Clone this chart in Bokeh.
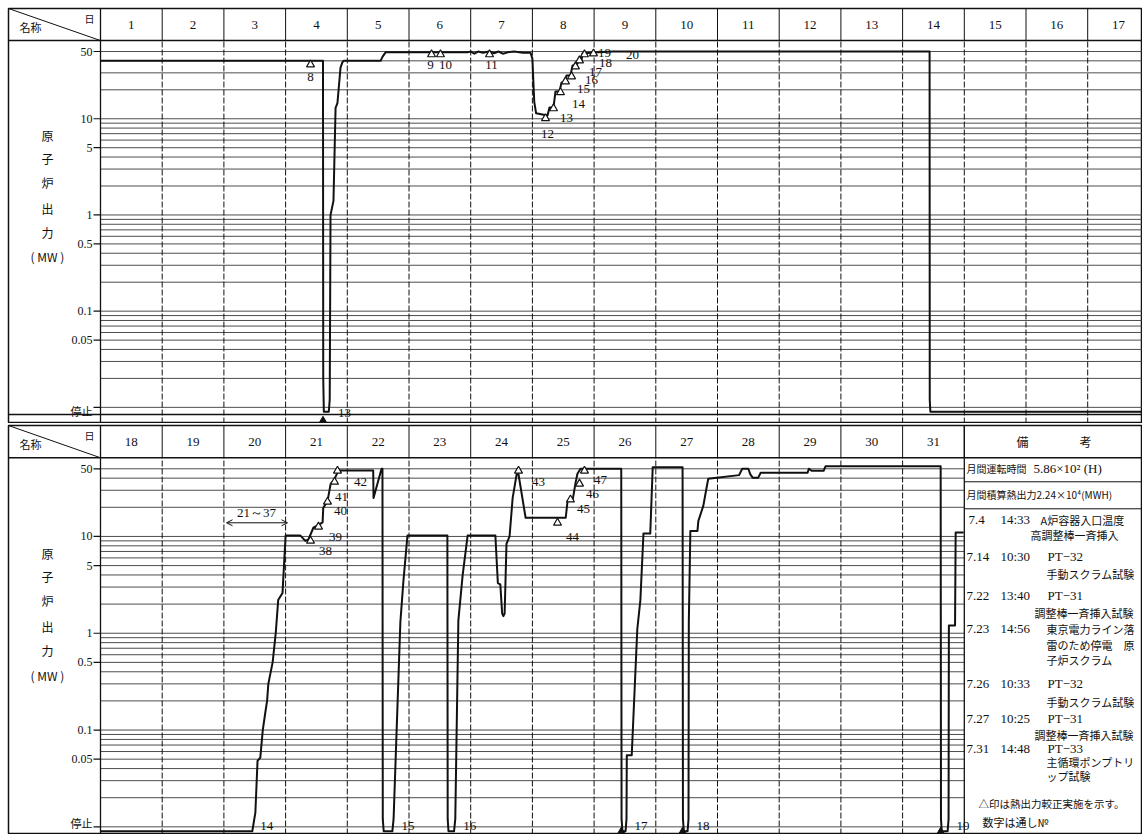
from bokeh.plotting import figure
from bokeh.models import Range1d, Arrow, OpenHead
from bokeh.layouts import column
from bokeh.core.properties import value
from bokeh.embed import file_html
from bokeh.resources import INLINE

# ------------------------------------------------------------------ data
TOP_DAYS = list(range(1, 18))
BOT_DAYS = list(range(18, 32))
TICK_MW = [50, 10, 5, 1, 0.5, 0.1, 0.05, 0.01]
TICK_LABELS = ["50", "10", "5", "1", "0.5", "0.1", "0.05", "停止"]
GRID_MW = [0.01, 0.02, 0.03, 0.04, 0.05, 0.06, 0.07, 0.08, 0.09,
           0.1, 0.2, 0.3, 0.4, 0.5, 0.6, 0.7, 0.8, 0.9,
           1, 2, 3, 4, 5, 6, 7, 8, 9, 10, 20, 30, 40, 50]
AXIS_TITLE = ["原", "子", "炉", "出", "力", "( MW )"]
STOP_MW = 0.01

# time = day of month + fraction of day ; MW (0.009 = stopped, drawn just under the 停止 line)
TOP_T = [1.0, 4.606, 4.61, 4.62, 4.70, 4.715, 4.728, 4.776, 4.81, 4.84, 4.89, 4.92, 4.94, 5.54, 5.57, 5.62,
         6.95, 7.0, 7.06, 7.12, 7.2, 7.3, 7.38, 7.45, 7.52, 7.6, 7.7, 7.85, 7.97,
         8.0, 8.03, 8.06, 8.245, 8.277, 8.342, 8.374, 8.439, 8.472, 8.52, 8.553, 8.617, 8.65, 8.715,
         8.747, 8.796, 8.812, 8.99,
         9.3, 14.4375, 14.44, 14.45, 17.9]
TOP_MW = [40, 40, 0.02, 0.009, 0.009, 0.012, 1.0, 1.4, 13, 14.5, 34, 38.5, 40, 40, 44, 49,
          49, 50, 47.5, 50, 48.5, 50, 48, 50, 47.5, 49, 50, 48.5, 48.5,
          42, 15, 11.4, 10.8, 13.1, 13.1, 19.2, 19.2, 23.8, 23.8, 28.2, 28.2, 35.7, 35.7,
          40.3, 40.3, 47.6, 48.8,
          50, 50, 0.012, 0.009, 0.009]

BOT_T = [18.0, 20.46, 20.51, 20.545, 20.59, 20.63, 20.67, 20.70, 20.72, 20.79, 20.84, 20.88, 20.95,
         21.0, 21.24, 21.32, 21.37, 21.45, 21.52, 21.60, 21.61, 21.68, 21.73, 21.78, 21.84, 21.86,
         22.42, 22.425, 22.555, 22.57, 22.575, 22.59, 22.73, 22.75, 22.86, 22.91, 22.975,
         23.622, 23.627, 23.64, 23.73, 23.75, 23.80, 23.87, 23.95,
         24.40, 24.44, 24.48, 24.51, 24.53, 24.55, 24.58, 24.63, 24.68, 24.76, 24.89,
         25.54, 25.57, 25.65, 25.70, 25.73, 25.78,
         26.44, 26.445, 26.46, 26.51, 26.525, 26.53, 26.61, 26.70, 26.75, 26.80, 26.91, 26.95,
         27.434, 27.44, 27.455, 27.515, 27.53, 27.535, 27.56, 27.675, 27.69, 27.77, 27.805, 27.85, 27.92,
         28.35, 28.40, 28.50, 28.53, 28.57, 28.66, 28.70,
         29.46, 29.48, 29.53, 29.72, 29.75,
         31.617, 31.622, 31.635, 31.73, 31.745, 31.75, 31.85, 31.86, 31.99]
BOT_MW = [0.009, 0.009, 0.014, 0.048, 0.052, 0.1, 0.15, 0.2, 0.3, 0.5, 1.0, 2.2, 2.6,
          10.2, 10.2, 9.0, 9.3, 12.3, 13.0, 14.0, 19.7, 23.3, 34.9, 38.0, 45.4, 48.0,
          48.0, 25.0, 50.0, 50.0, 0.012, 0.009, 0.009, 0.012, 1.3, 3.5, 10.2,
          10.2, 0.012, 0.009, 0.009, 0.012, 1.35, 4.0, 10.2,
          10.2, 3.3, 3.2, 1.6, 1.5, 1.6, 8.4, 10.0, 25.0, 50.0, 15.6,
          15.6, 23.3, 23.3, 36.0, 44.5, 50.0,
          50.0, 0.012, 0.009, 0.009, 0.012, 0.055, 0.055, 1.1, 2.2, 10.7, 10.7, 52.0,
          52.0, 0.012, 0.009, 0.009, 0.012, 1.3, 11.4, 11.4, 14.5, 20.7, 27.6, 39.4, 40.0,
          43.0, 50.0, 50.0, 44.0, 40.5, 40.5, 45.5,
          45.5, 50.0, 47.6, 47.6, 53.0,
          53.0, 0.012, 0.009, 0.009, 0.012, 1.2, 1.2, 11.0, 11.0]

# thermal-power calibrations (open triangles), serial numbers
TOP_CAL_NO = ["8", "9", "10", "11", "12", "13", "14", "15", "16", "17", "18", "19", "20"]
TOP_CAL_T = [4.404, 6.365, 6.51, 7.305, 8.212, 8.342, 8.455, 8.536, 8.634, 8.698, 8.763, 8.844, 8.99]
TOP_CAL_MW = [36.6, 46.6, 46.6, 46.6, 10.1, 12.8, 18.8, 24.4, 27.5, 34.9, 40.3, 46.6, 47.6]
BOT_CAL_NO = ["38", "39", "40", "41", "42", "43", "44", "45", "46", "47"]
BOT_CAL_T = [21.404, 21.533, 21.679, 21.793, 21.841, 24.775, 25.407, 25.617, 25.763, 25.844]
BOT_CAL_MW = [9.0, 12.6, 22.8, 36.6, 47.6, 47.6, 13.8, 24.0, 35.0, 47.6]

# start-up serial numbers and scrams
TOP_START_NO = ["13"]
TOP_START_T = [4.72]
TOP_SCRAM_T = [4.606]
BOT_START_NO = ["14", "15", "16", "17", "18", "19"]
BOT_START_T = [20.46, 22.75, 23.75, 26.525, 27.53, 31.745]
BOT_SCRAM_T = [26.44, 27.434, 31.617]

# label offsets (pixels) of the calibration numbers
TOP_CAL_DX = [0, -1, 5, 2, 2, 13, 18, 18, 20, 20, 26, 20, 39]
TOP_CAL_DY = [12, 11, 11, 11, 16, 10, 12, 8, 4, 5, 2, -1, 1]
BOT_CAL_DX = [15, 17, 13, 7, 23, 20, 15, 13, 13, 16]
BOT_CAL_DY = [10, 10, 9, 15, 11, 11, 14, 9, 10, 9]

# notes column: text, left px, row px, style
NOTE_ROWS = [
    ("月間運転時間", 966, 468, "small"), ("5.86×10² (H)", 1033, 468, "serif"),
    ("月間積算熱出力2.24×10⁴(MWH)", 966, 494, "small"),
    ("7.4", 968, 519, "serif"), ("14:33", 1000, 519, "serif"), ("A炉容器入口温度", 1040, 519, "cjk"),
    ("高調整棒一斉挿入", 1030, 534, "cjk"),
    ("7.14", 966, 556, "serif"), ("10:30", 1000, 556, "serif"), ("PT−32", 1047, 556, "serif"),
    ("手動スクラム試験", 1046, 573, "cjk"),
    ("7.22", 966, 595, "serif"), ("13:40", 1000, 595, "serif"), ("PT−31", 1047, 595, "serif"),
    ("調整棒一斉挿入試験", 1034, 612, "cjk"),
    ("7.23", 966, 628, "serif"), ("14:56", 1000, 628, "serif"), ("東京電力ライン落", 1046, 628, "cjk"),
    ("雷のため停電　原", 1046, 644, "cjk"),
    ("子炉スクラム", 1046, 659, "cjk"),
    ("7.26", 966, 683, "serif"), ("10:33", 1000, 683, "serif"), ("PT−32", 1047, 683, "serif"),
    ("手動スクラム試験", 1046, 701, "cjk"),
    ("7.27", 966, 718, "serif"), ("10:25", 1000, 718, "serif"), ("PT−31", 1047, 718, "serif"),
    ("調整棒一斉挿入試験", 1034, 734, "cjk"),
    ("7.31", 966, 748, "serif"), ("14:48", 1000, 748, "serif"), ("PT−33", 1047, 748, "serif"),
    ("主循環ポンプトリ", 1046, 761, "cjk"),
    ("ップ試験", 1046, 775, "cjk"),
    ("△印は熱出力較正実施を示す。", 978, 803, "long"),
    ("数字は通し№", 982, 821, "cjk"),
]
NOTE_FONT = {"serif": ("Liberation Serif", "13px"), "cjk": ("Noto Sans CJK JP", "11px"),
             "small": ("Noto Sans CJK JP", "10px"), "long": ("Noto Sans CJK JP", "10.5px")}

# ------------------------------------------------------------------ layout constants
XPD = 61.7        # px per day
LEFT = 92         # px of the label column
W = 1142
BORDER_L = 8
YTOP = 140.0
YHEAD = 65.0
SERIF = value("Liberation Serif")
CJK = value("Noto Sans CJK JP")
INK = "#111111"
GRIDC = "#3a3a3a"


def ref_top(y):
    return 50 * 10 ** (-(y - 51) / 96.2)


def ref_bot(y):
    return 50 * 10 ** (-(y - 468) / 96.8)


def panel(days, dec, frame_h, border_t, tt, mw, cal_no, cal_t, cal_mw, cal_dx, cal_dy,
          start_no, start_t, scram_t, grid_end, low_baseline, low_offset, start_offset):
    def v_at(dy):
        return YTOP * 10 ** (-dy / dec)

    first, last = days[0], days[-1]
    ybot = v_at(frame_h)
    xl = first - LEFT / XPD
    xr = first + (W - BORDER_L - LEFT) / XPD
    p = figure(width=W, height=frame_h + border_t, x_range=Range1d(xl, xr), y_range=Range1d(ybot, YTOP),
               y_axis_type="log", x_axis_location=None, y_axis_location=None,
               toolbar_location=None, output_backend="svg",
               min_border=0, min_border_left=BORDER_L, min_border_top=border_t)
    p.grid.visible = False
    p.outline_line_color = INK
    p.outline_line_width = 1.5
    p.background_fill_color = "white"
    p.border_fill_color = "white"

    gx1 = grid_end if grid_end is not None else xr
    n = len(GRID_MW)
    p.segment(x0=[first] * n, x1=[gx1] * n, y0=GRID_MW, y1=GRID_MW,
              line_color=GRIDC, line_width=1, line_alpha=0.9)

    dashed = list(range(first + 1, last + 1))
    p.segment(x0=dashed, x1=dashed, y0=[ybot] * len(dashed), y1=[YHEAD] * len(dashed),
              line_color=INK, line_width=1, line_dash="6 2")
    solid = [first] + ([grid_end] if grid_end is not None else [])
    p.segment(x0=solid, x1=solid, y0=[ybot] * len(solid), y1=[YTOP] * len(solid),
              line_color=INK, line_width=1.3)
    hv = list(range(first, last + 2))
    p.segment(x0=hv, x1=hv, y0=[YHEAD] * len(hv), y1=[YTOP] * len(hv), line_color=INK, line_width=1)
    p.segment(x0=[xl], x1=[xr], y0=[YHEAD], y1=[YHEAD], line_color=INK, line_width=1.5)
    p.segment(x0=[xl], y0=[YTOP], x1=[first], y1=[YHEAD], line_color=INK, line_width=1)

    p.text(x=[d + 0.5 for d in days], y=[v_at(16)] * len(days), text=[str(d) for d in days],
           text_font=SERIF, text_font_size="13px", text_align="center", text_baseline="middle",
           text_color=INK)
    p.text(x=[first + (30 - 100) / XPD], y=[v_at(18)], text=["名称"], text_font=CJK,
           text_font_size="11px", text_align="center", text_baseline="middle", text_color=INK)
    p.text(x=[first + (89 - 100) / XPD], y=[v_at(10)], text=["日"], text_font=CJK,
           text_font_size="10px", text_align="center", text_baseline="middle", text_color=INK)

    # y ticks
    k = len(TICK_MW)
    p.segment(x0=[first - 7 / XPD] * k, x1=[first] * k, y0=TICK_MW, y1=TICK_MW, line_color=INK, line_width=1.2)
    p.text(x=[first - 8 / XPD] * (k - 1), y=TICK_MW[:-1], text=TICK_LABELS[:-1], text_font=SERIF,
           text_font_size="12px", text_align="right", text_baseline="middle", text_color=INK)
    p.text(x=[first - 8 / XPD], y=[TICK_MW[-1]], text=[TICK_LABELS[-1]], y_offset=low_offset,
           text_font=CJK, text_font_size="11px", text_align="right", text_baseline=low_baseline,
           text_color=INK)
    ys = [ref_top(y) for y in (135, 158, 182, 208, 232, 256)]
    p.text(x=[first + (47 - 100) / XPD] * 6, y=ys, text=AXIS_TITLE, text_font=CJK,
           text_font_size="12px", text_align="center", text_baseline="middle", text_color=INK)

    # trace
    p.line(tt, mw, line_color=INK, line_width=2, line_join="round")

    # calibration markers
    p.scatter(cal_t, cal_mw, marker="triangle", size=8, fill_color="white", line_color=INK, line_width=1.2)
    for no, t, m, dx, dy in zip(cal_no, cal_t, cal_mw, cal_dx, cal_dy):
        p.text(x=[t], y=[m], text=[no], x_offset=dx, y_offset=dy, text_font=SERIF,
               text_font_size="13px", text_align="center", text_baseline="middle", text_color=INK)

    # start-ups / scrams
    p.text(x=start_t, y=[STOP_MW] * len(start_t), text=start_no, x_offset=8, y_offset=start_offset,
           text_font=SERIF, text_font_size="13px", text_align="left", text_baseline=low_baseline,
           text_color=INK)
    p.scatter(scram_t, [v_at(frame_h - 2)] * len(scram_t), marker="triangle", size=9,
              fill_color=INK, line_color=INK)
    return p, xl, xr, v_at


top, txl, txr, tv = panel(TOP_DAYS, 96.2, 415, 8, TOP_T, TOP_MW, TOP_CAL_NO, TOP_CAL_T, TOP_CAL_MW,
                          TOP_CAL_DX, TOP_CAL_DY, TOP_START_NO, TOP_START_T, TOP_SCRAM_T, None,
                          "middle", 4, 6)
top.segment(x0=[txl], x1=[txr], y0=[tv(406)], y1=[tv(406)], line_color=INK, line_width=1.3)

bot, bxl, bxr, bv = panel(BOT_DAYS, 96.8, 409, 2, BOT_T, BOT_MW, BOT_CAL_NO, BOT_CAL_T, BOT_CAL_MW,
                          BOT_CAL_DX, BOT_CAL_DY, BOT_START_NO, BOT_START_T, BOT_SCRAM_T, 32,
                          "bottom", 4, 3)


def px_bot(px):
    return 18 + (px - 100) / XPD


# notes header and separators
bot.text(x=[px_bot(1022), px_bot(1085)], y=[bv(16)] * 2, text=["備", "考"], text_font=CJK,
         text_font_size="12px", text_align="center", text_baseline="middle", text_color=INK)
sep = [ref_bot(481), ref_bot(508)]
bot.segment(x0=[32, 32], x1=[bxr, bxr], y0=sep, y1=sep, line_color=INK, line_width=1)

for txt, px, py, kind in NOTE_ROWS:
    fnt, fsz = NOTE_FONT[kind]
    bot.text(x=[px_bot(px)], y=[ref_bot(py)], text=[txt], text_font=value(fnt), text_font_size=fsz,
             text_align="left", text_baseline="middle", text_color=INK)

# 21～37 range arrow
ya = ref_bot(522)
bot.add_layout(Arrow(start=OpenHead(size=6, line_width=1, line_color=INK),
                     end=OpenHead(size=6, line_width=1, line_color=INK),
                     x_start=px_bot(226), y_start=ya, x_end=px_bot(287), y_end=ya,
                     line_color=INK, line_width=1))
bot.text(x=[px_bot(256)], y=[ref_bot(512)], text=["21～37"], text_font=SERIF, text_font_size="13px",
         text_align="center", text_baseline="middle", text_color=INK)

layout = column(top, bot, spacing=0)
open("out.html", "w").write(file_html(layout, INLINE, title="原子炉出力"))
